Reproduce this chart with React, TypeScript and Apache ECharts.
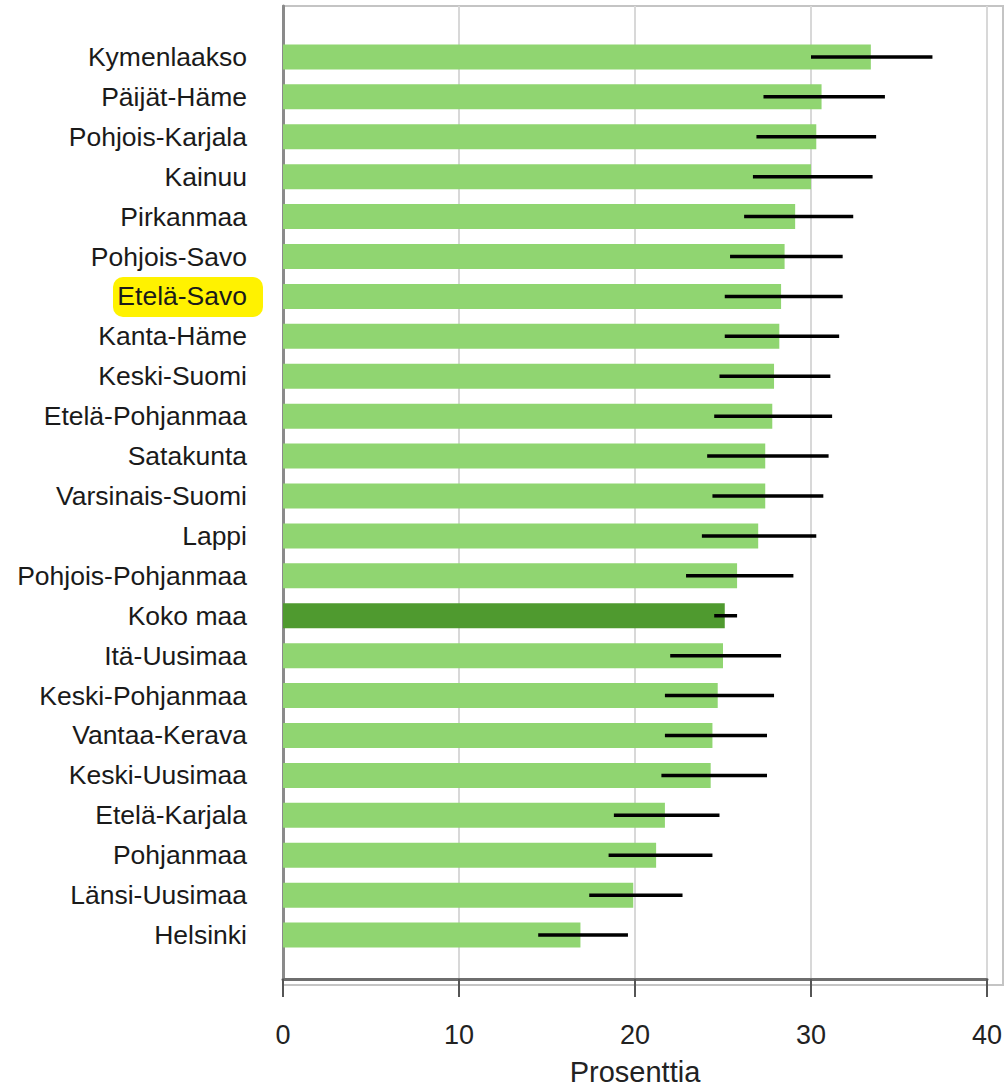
import React, { useEffect, useRef } from "react";
import * as echarts from "echarts";

const categories = [
  "Kymenlaakso", "Päijät-Häme", "Pohjois-Karjala", "Kainuu", "Pirkanmaa",
  "Pohjois-Savo", "Etelä-Savo", "Kanta-Häme", "Keski-Suomi", "Etelä-Pohjanmaa",
  "Satakunta", "Varsinais-Suomi", "Lappi", "Pohjois-Pohjanmaa", "Koko maa",
  "Itä-Uusimaa", "Keski-Pohjanmaa", "Vantaa-Kerava", "Keski-Uusimaa",
  "Etelä-Karjala", "Pohjanmaa", "Länsi-Uusimaa", "Helsinki",
];
const values = [
  33.4, 30.6, 30.3, 30.0, 29.1, 28.5, 28.3, 28.2, 27.9, 27.8, 27.4, 27.4,
  27.0, 25.8, 25.1, 25.0, 24.7, 24.4, 24.3, 21.7, 21.2, 19.9, 16.9,
];
const lower = [
  30.0, 27.3, 26.9, 26.7, 26.2, 25.4, 25.1, 25.1, 24.8, 24.5, 24.1, 24.4,
  23.8, 22.9, 24.5, 22.0, 21.7, 21.7, 21.5, 18.8, 18.5, 17.4, 14.5,
];
const upper = [
  36.9, 34.2, 33.7, 33.5, 32.4, 31.8, 31.8, 31.6, 31.1, 31.2, 31.0, 30.7,
  30.3, 29.0, 25.8, 28.3, 27.9, 27.5, 27.5, 24.8, 24.4, 22.7, 19.6,
];
const xTicks = [0, 10, 20, 30, 40];
const totalLabel = "Koko maa";
const highlightLabel = "Etelä-Savo";

const FONT = "'Liberation Sans', Arial, sans-serif";

export default function App() {
  const ref = useRef<HTMLDivElement>(null);
  useEffect(() => {
    if (!ref.current) return;
    const chart = echarts.init(ref.current, undefined, { renderer: "svg" });
    const barData = values.map((v, i) => ({
      value: v,
      itemStyle: { color: categories[i] === totalLabel ? "#4f9a2f" : "#90d571" },
    }));
    const errData = categories.map((c, i) => [lower[i], upper[i], i]);
    const hiIdx = categories.indexOf(highlightLabel);
    const option: any = {
      animation: false,
      backgroundColor: "#ffffff",
      grid: [
        { left: 283, right: 18, top: 6, bottom: 106 },
        { left: 283, right: 18, top: 37, bottom: 136 },
      ],
      graphic: [
        {
          type: "rect",
          z: -5,
          shape: { x: 283, y: 6, width: 720, height: 979 },
          style: { fill: "none", stroke: "#c4c4c4", lineWidth: 2 },
        },
        {
          type: "rect",
          z: -1,
          shape: { x: 113, y: 277 + (hiIdx - 6) * 39.9, width: 150, height: 40, r: 10 },
          style: { fill: "#fff200" },
        },
      ],
      xAxis: [
        {
          gridIndex: 0,
          type: "value",
          min: xTicks[0],
          max: xTicks[xTicks.length - 1],
          interval: 10,
          name: "Prosenttia",
          nameLocation: "middle",
          nameGap: 78,
          nameTextStyle: { fontFamily: FONT, fontSize: 29, color: "#222" },
          axisLine: { show: true, lineStyle: { color: "#6e6e6e", width: 3 } },
          axisTick: { show: true, length: 18, lineStyle: { color: "#555", width: 2 } },
          axisLabel: { fontFamily: FONT, fontSize: 27, color: "#222", margin: 42 },
          splitLine: { show: true, lineStyle: { color: "#d8d8d8", width: 2 } },
        },
        {
          gridIndex: 1,
          type: "value",
          min: 0,
          max: 40,
          show: false,
          splitLine: { show: false },
        },
      ],
      yAxis: [
        {
          gridIndex: 0,
          type: "value",
          show: true,
          axisLine: { show: true, lineStyle: { color: "#8a8a8a", width: 3 } },
          axisTick: { show: false },
          axisLabel: { show: false },
          splitLine: { show: false },
        },
        {
          gridIndex: 1,
          type: "category",
          data: categories,
          inverse: true,
          z: 3,
          axisLine: { show: false },
          axisTick: { show: false },
          axisLabel: { fontFamily: FONT, fontSize: 26.5, color: "#1a1a1a", margin: 36 },
        },
      ],
      series: [
        {
          type: "bar",
          xAxisIndex: 1,
          yAxisIndex: 1,
          data: barData,
          barWidth: 25,
          z: 2,
        },
        {
          type: "custom",
          xAxisIndex: 1,
          yAxisIndex: 1,
          z: 3,
          data: errData,
          encode: { x: [0, 1], y: 2 },
          renderItem: (params: any, api: any) => {
            const idx = api.value(2);
            const p1 = api.coord([api.value(0), idx]);
            const p2 = api.coord([api.value(1), idx]);
            return {
              type: "line",
              shape: { x1: p1[0], y1: p1[1], x2: p2[0], y2: p2[1] },
              style: { stroke: "#000", lineWidth: 3.5 },
            };
          },
        },
      ],
    };
    chart.setOption(option);
    return () => chart.dispose();
  }, []);
  return (
    <div
      ref={ref}
      style={{ position: "fixed", left: 0, top: 0, width: 1005, height: 1091, background: "#fff" }}
    />
  );
}
